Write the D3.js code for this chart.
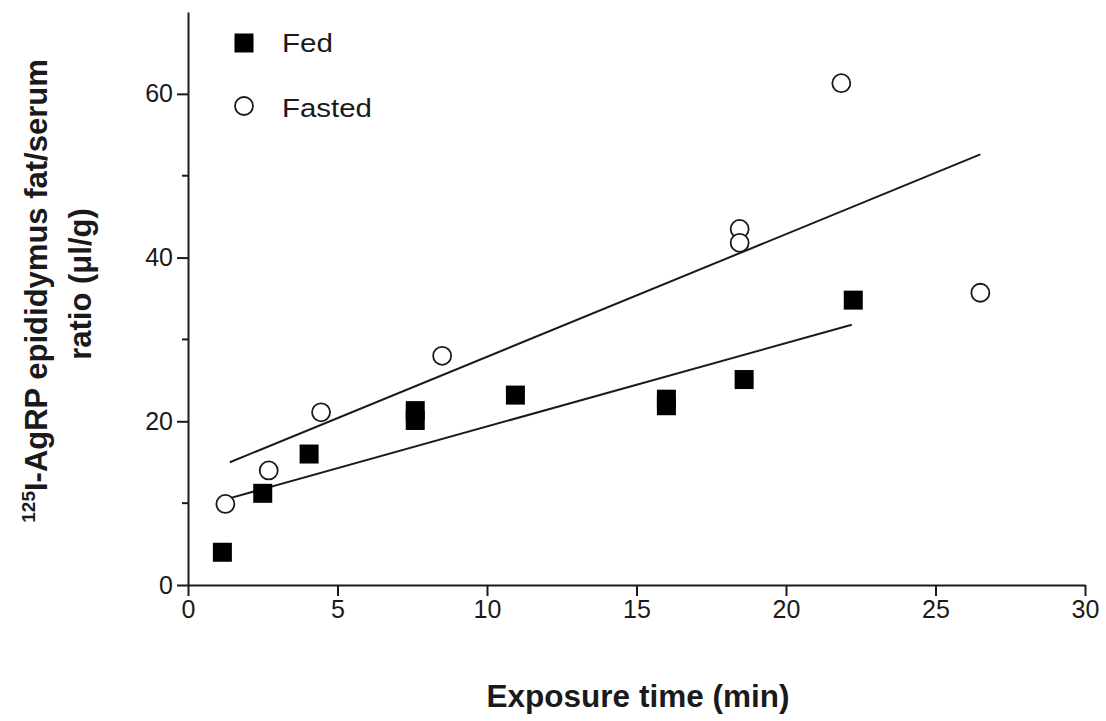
<!DOCTYPE html>
<html>
<head>
<meta charset="utf-8">
<script src="https://cdn.jsdelivr.net/npm/d3@7"></script>
<style>
  html, body { margin: 0; padding: 0; background: #fff; }
  svg { display: block; font-family: "Liberation Sans", Arial, sans-serif; }
</style>
</head>
<body>
<svg id="chart" width="1106" height="721"></svg>
<script>
// ---- Data ----
const fedX = [1.15, 2.5, 4.05, 7.6, 7.6, 10.95, 16.0, 16.0, 18.6, 22.25];
const fedY = [4.0, 11.2, 16.0, 20.1, 21.3, 23.2, 21.9, 22.7, 25.1, 34.8];
const fastedX = [1.25, 2.7, 4.45, 8.5, 18.45, 18.45, 21.85, 26.5];
const fastedY = [9.9, 14.0, 21.1, 28.0, 43.5, 41.8, 61.3, 35.7];
const fedFitX = [1.2, 22.2];
const fedFitY = [10.4, 31.8];
const fastedFitX = [1.4, 26.5];
const fastedFitY = [15.0, 52.6];
const xTicks = [0, 5, 10, 15, 20, 25, 30];
const yTicks = [0, 20, 40, 60];
const yMinorTicks = [10, 30, 50];
const legendLabels = ["Fed", "Fasted"];
const xTitle = "Exposure time (min)";

// ---- Scales ----
const svg = d3.select("#chart");
const x = d3.scaleLinear().domain([0, 30]).range([188, 1085]);
const y = d3.scaleLinear().domain([0, 70]).range([585, 12]);
const ink = "#1a1a1a";
const FONT = "Liberation Sans, Arial, sans-serif";

// ---- Axes ----
const xAxis = svg.append("g").attr("transform", `translate(0,${y(0)})`)
  .call(d3.axisBottom(x).tickValues(xTicks).tickFormat(d3.format("d")).tickSize(11).tickPadding(4).tickSizeOuter(0));
xAxis.select(".domain").attr("stroke", ink).attr("stroke-width", 2);
xAxis.selectAll(".tick line").attr("stroke", ink).attr("stroke-width", 2);
xAxis.selectAll(".tick text").attr("font-size", 25).attr("fill", ink).attr("font-family", FONT);

const yAxis = svg.append("g").attr("transform", `translate(${x(0)},0)`)
  .call(d3.axisLeft(y).tickValues(yTicks).tickFormat(d3.format("d")).tickSize(11).tickPadding(4).tickSizeOuter(0));
yAxis.select(".domain").attr("stroke", ink).attr("stroke-width", 2);
yAxis.selectAll(".tick line").attr("stroke", ink).attr("stroke-width", 2);
yAxis.selectAll(".tick text").attr("font-size", 25).attr("fill", ink).attr("font-family", FONT);

// minor ticks on y
svg.append("g").selectAll("line").data(yMinorTicks).join("line")
  .attr("x1", x(0) - 6).attr("x2", x(0))
  .attr("y1", d => y(d)).attr("y2", d => y(d))
  .attr("stroke", ink).attr("stroke-width", 2);

// ---- Regression lines ----
const line = d3.line().x(d => x(d[0])).y(d => y(d[1]));
svg.append("path").datum(d3.zip(fedFitX, fedFitY)).attr("d", line)
  .attr("fill", "none").attr("stroke", ink).attr("stroke-width", 2);
svg.append("path").datum(d3.zip(fastedFitX, fastedFitY)).attr("d", line)
  .attr("fill", "none").attr("stroke", ink).attr("stroke-width", 2);

// ---- Points ----
const sq = 19;
svg.append("g").selectAll("rect").data(d3.zip(fedX, fedY)).join("rect")
  .attr("x", d => x(d[0]) - sq / 2).attr("y", d => y(d[1]) - sq / 2)
  .attr("width", sq).attr("height", sq).attr("fill", "#000");
svg.append("g").selectAll("circle").data(d3.zip(fastedX, fastedY)).join("circle")
  .attr("cx", d => x(d[0])).attr("cy", d => y(d[1])).attr("r", 9)
  .attr("fill", "#fff").attr("stroke", ink).attr("stroke-width", 1.8);

// ---- Legend ----
const lg = svg.append("g");
lg.append("rect").attr("x", 244 - sq / 2).attr("y", 43 - sq / 2).attr("width", sq).attr("height", sq).attr("fill", "#000");
lg.append("circle").attr("cx", 244).attr("cy", 106).attr("r", 9).attr("fill", "#fff").attr("stroke", ink).attr("stroke-width", 1.8);
const legendWidths = [51, 90];
lg.selectAll("text").data(legendLabels).join("text")
  .attr("x", 282).attr("y", (d, i) => 52 + i * 65)
  .attr("font-size", 25).attr("fill", ink)
  .attr("textLength", (d, i) => legendWidths[i]).attr("lengthAdjust", "spacingAndGlyphs")
  .text(d => d);

// ---- Axis titles ----
svg.append("text").attr("x", 638).attr("y", 707).attr("text-anchor", "middle")
  .attr("font-size", 31.5).attr("font-weight", "bold").attr("fill", ink).text(xTitle);

const yt = svg.append("text").attr("transform", "translate(47,291) rotate(-90)")
  .attr("text-anchor", "middle").attr("font-size", 31).attr("font-weight", "bold").attr("fill", ink);
yt.append("tspan").attr("font-size", 19).attr("dy", -12).text("125");
yt.append("tspan").attr("dy", 12).text("I-AgRP epididymus fat/serum");
svg.append("text").attr("transform", "translate(91,284) rotate(-90)")
  .attr("text-anchor", "middle").attr("font-size", 31).attr("font-weight", "bold").attr("fill", ink)
  .text("ratio (\u03bcl/g)");
</script>
</body>
</html>
